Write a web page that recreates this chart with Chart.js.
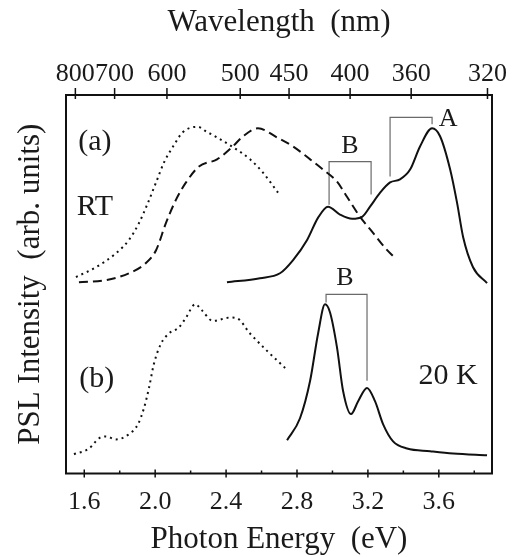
<!DOCTYPE html>
<html>
<head>
<meta charset="utf-8">
<title>PSL spectra</title>
<script src="https://cdn.jsdelivr.net/npm/chart.js@4.4.1/dist/chart.umd.min.js"></script>
<style>
  html, body { margin: 0; padding: 0; background: #fff; }
  #wrap { width: 512px; height: 557px; }
</style>
</head>
<body>
<div id="wrap"><canvas id="pslChart"></canvas></div>
<script>
const HC = 1239.84; // eV*nm, for the wavelength axis

const energyTicks = [1.6, 1.8, 2.0, 2.2, 2.4, 2.6, 2.8, 3.0, 3.2, 3.4, 3.6, 3.8];
const wavelengthTicks = [800, 700, 600, 500, 450, 400, 360, 320];

// (a) RT, dotted
const rtDotE = [1.553, 1.666, 1.779, 1.852, 1.909, 1.959, 2.005, 2.050, 2.101, 2.157, 2.240, 2.290, 2.349, 2.433, 2.535, 2.608, 2.693];
const rtDotI = [51.9, 54.5, 58.2, 61.7, 66.2, 71.5, 76.9, 82.2, 86.4, 90.2, 91.6, 90.3, 88.8, 86.4, 83.0, 79.5, 74.2];

// (a) RT, dashed
const rtDashE = [1.570, 1.722, 1.852, 1.948, 2.005, 2.061, 2.117, 2.174, 2.247, 2.349, 2.433, 2.496, 2.580, 2.687, 2.778, 2.874, 2.947, 3.026, 3.082, 3.156, 3.229, 3.297, 3.353];
const rtDashI = [50.5, 51.1, 52.9, 55.6, 59.0, 66.2, 72.3, 76.9, 81.1, 83.0, 86.2, 89.1, 91.2, 88.8, 86.4, 83.0, 80.3, 77.1, 73.1, 67.8, 63.6, 59.6, 56.9];

// (a) RT, solid
const rtSolidE = [2.405, 2.591, 2.704, 2.778, 2.857, 2.919, 2.975, 3.043, 3.111, 3.167, 3.212, 3.269, 3.325, 3.381, 3.438, 3.494, 3.562, 3.607, 3.664, 3.703, 3.737, 3.793, 3.872];
const rtSolidI = [50.5, 51.6, 52.9, 56.4, 61.7, 67.6, 70.5, 68.4, 67.3, 67.8, 70.5, 74.2, 76.9, 77.7, 80.3, 86.4, 91.2, 89.1, 80.3, 71.5, 62.5, 54.5, 50.3];

// (b) 20 K, dotted
const lowDotE = [1.542, 1.627, 1.683, 1.722, 1.779, 1.852, 1.903, 1.937, 1.965, 1.993, 2.033, 2.078, 2.134, 2.174, 2.226, 2.264, 2.326, 2.422, 2.462, 2.535, 2.631, 2.733];
const lowDotI = [5.1, 6.6, 9.3, 9.8, 9.0, 10.4, 13.0, 17.3, 22.6, 29.0, 34.3, 37.0, 38.6, 41.2, 44.7, 43.1, 40.3, 41.2, 41.0, 37.0, 32.4, 27.9];

// (b) 20 K, solid
const lowSolidE = [2.744, 2.817, 2.874, 2.919, 2.958, 2.986, 3.026, 3.060, 3.105, 3.145, 3.195, 3.240, 3.286, 3.342, 3.421, 3.551, 3.681, 3.872];
const lowSolidI = [8.8, 14.6, 24.5, 37.0, 44.7, 42.6, 33.2, 21.8, 15.7, 19.1, 22.6, 19.1, 13.0, 8.5, 6.6, 5.9, 5.3, 4.8];

// peak brackets
const bracketBaE = [2.981, 2.981, 3.218, 3.218];
const bracketBaI = [71.0, 82.4, 82.4, 73.7];
const bracketAE = [3.325, 3.325, 3.562, 3.562];
const bracketAI = [78.5, 94.1, 94.1, 92.3];
const bracketBbE = [2.964, 2.964, 3.195, 3.195];
const bracketBbI = [45.2, 47.3, 47.3, 24.5];

// text notes
const panelNotes = ['(a)', 'RT', '(b)', '20 K'];
const panelNoteE = [1.660, 1.660, 1.671, 3.652];
const panelNoteI = [87.5, 70.5, 25.0, 25.8];
const peakNotes = ['B', 'A', 'B'];
const peakNoteE = [3.099, 3.652, 3.071];
const peakNoteI = [86.4, 93.6, 51.6];

const SERIF = '"Liberation Serif", "Times New Roman", serif';
Chart.defaults.font.family = SERIF;
Chart.defaults.color = '#1a1a1a';

function pts(xs, ys) {
    return xs.map((v, i) => ({x: v, y: ys[i]}));
}

function curve(xs, ys, dash) {
    return {
        data: pts(xs, ys),
        borderColor: '#111',
        borderWidth: 2,
        borderDash: dash,
        pointRadius: 0,
        fill: false,
        cubicInterpolationMode: 'monotone'
    };
}

function bracket(xs, ys) {
    return {
        data: pts(xs, ys),
        borderColor: '#6a6a6a',
        borderWidth: 1.2,
        pointRadius: 0,
        fill: false,
        tension: 0
    };
}

// tick labels may hang over the frame, don't let them shrink the plot
function noSidePadding(scale) {
    scale.paddingLeft = 0;
    scale.paddingRight = 0;
}

const frameAndTicks = {
    id: 'frameAndTicks',
    afterDraw(chart) {
        const {ctx, chartArea: a, scales} = chart;
        ctx.save();
        ctx.strokeStyle = '#111';
        ctx.lineWidth = 2;
        ctx.strokeRect(a.left, a.top, a.right - a.left, a.bottom - a.top);

        ctx.lineWidth = 1.5;
        scales.x.ticks.forEach((t, i) => {
            const px = scales.x.getPixelForValue(t.value);
            const major = i % 2 === 0;
            ctx.beginPath();
            ctx.moveTo(px, a.bottom - (major ? 4 : 3));
            ctx.lineTo(px, a.bottom + (major ? 4 : 0));
            ctx.stroke();
        });
        scales.x2.ticks.forEach(t => {
            const px = scales.x2.getPixelForValue(t.value);
            ctx.beginPath();
            ctx.moveTo(px, a.top - 7);
            ctx.lineTo(px, a.top + 4);
            ctx.stroke();
        });
        ctx.restore();
    },
    afterDatasetsDraw(chart) {
        const {ctx, scales: {x, y}} = chart;
        ctx.save();
        ctx.fillStyle = '#1a1a1a';
        ctx.textAlign = 'center';
        ctx.textBaseline = 'middle';
        ctx.font = '30px ' + SERIF;
        panelNotes.forEach((t, i) => {
            ctx.fillText(t, x.getPixelForValue(panelNoteE[i]), y.getPixelForValue(panelNoteI[i]));
        });
        ctx.font = '26px ' + SERIF;
        peakNotes.forEach((t, i) => {
            ctx.fillText(t, x.getPixelForValue(peakNoteE[i]), y.getPixelForValue(peakNoteI[i]));
        });
        ctx.restore();
    }
};

const config = {
    type: 'line',
    data: {
        datasets: [
            curve(rtDotE, rtDotI, [2, 4]),
            curve(rtDashE, rtDashI, [9, 5]),
            curve(rtSolidE, rtSolidI, []),
            curve(lowDotE, lowDotI, [2, 4]),
            curve(lowSolidE, lowSolidI, []),
            bracket(bracketBaE, bracketBaI),
            bracket(bracketAE, bracketAI),
            bracket(bracketBbE, bracketBbI)
        ]
    },
    options: {
        responsive: true,
        maintainAspectRatio: false,
        animation: false,
        layout: {padding: {left: 0, right: 20, top: 0, bottom: 0}},
        plugins: {
            legend: {display: false},
            tooltip: {enabled: false}
        },
        scales: {
            x: {
                type: 'linear',
                position: 'bottom',
                min: 1.497,
                max: 3.90,
                grid: {display: false, drawTicks: false},
                border: {display: false},
                afterBuildTicks: scale => {
                    scale.ticks = energyTicks.map(v => ({value: v}));
                },
                afterFit: noSidePadding,
                ticks: {
                    autoSkip: false,
                    maxRotation: 0,
                    minRotation: 0,
                    padding: 16,
                    color: '#1a1a1a',
                    font: {size: 26, lineHeight: 1},
                    callback: (v, i) => (i % 2 === 0 ? energyTicks[i].toFixed(1) : '')
                },
                title: {
                    display: true,
                    text: 'Photon Energy  (eV)',
                    color: '#1a1a1a',
                    font: {size: 31, lineHeight: 1},
                    padding: {top: -7.5, bottom: 2}
                }
            },
            x2: {
                type: 'linear',
                position: 'top',
                min: 1.497,
                max: 3.90,
                grid: {display: false, drawTicks: false},
                border: {display: false},
                afterBuildTicks: scale => {
                    scale.ticks = wavelengthTicks.map(w => ({value: HC / w}));
                },
                afterFit: noSidePadding,
                ticks: {
                    autoSkip: false,
                    maxRotation: 0,
                    minRotation: 0,
                    padding: 8,
                    color: '#1a1a1a',
                    font: {size: 26, lineHeight: 1},
                    callback: (v, i) => String(wavelengthTicks[i])
                },
                title: {
                    display: true,
                    text: 'Wavelength  (nm)',
                    color: '#1a1a1a',
                    font: {size: 31, lineHeight: 1},
                    padding: {top: 7, bottom: 15}
                }
            },
            y: {
                type: 'linear',
                min: 0,
                max: 100,
                grid: {display: false, drawTicks: false},
                border: {display: false},
                ticks: {display: false},
                title: {
                    display: true,
                    text: 'PSL Intensity  (arb. units)',
                    color: '#1a1a1a',
                    font: {size: 31, lineHeight: 1},
                    padding: {top: 15.5, bottom: 19.5}
                }
            }
        }
    },
    plugins: [frameAndTicks]
};

const pslChart = new Chart(document.getElementById('pslChart'), config);
</script>
</body>
</html>
